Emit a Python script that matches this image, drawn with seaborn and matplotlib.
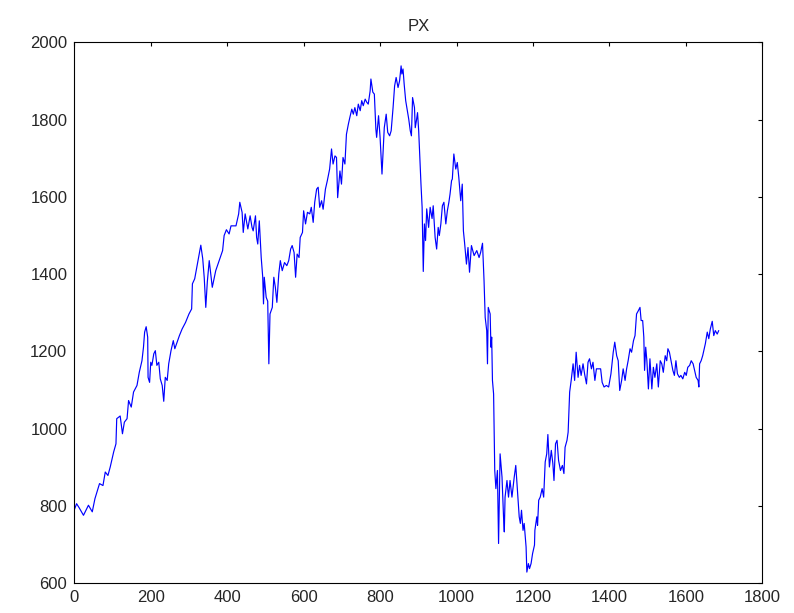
import matplotlib
matplotlib.use("Agg")
import matplotlib.pyplot as plt
import seaborn as sns
import pandas as pd

day = [0, 6, 13, 24, 37, 47, 54, 66, 75, 81, 88, 94, 103, 109, 111, 120, 126, 131, 138, 142,
       149, 155, 164, 170, 177, 181, 184, 188, 192, 193, 197, 200, 203, 208, 212, 216, 221, 225,
       230, 234, 238, 243, 247, 253, 259, 263, 269, 275, 282, 291, 300, 307, 309, 315, 322, 326,
       331, 336, 340, 344, 348, 353, 361,
       370, 379, 388, 392, 398, 405, 410, 423, 430, 433, 439, 442, 447, 454, 460, 465, 468, 474,
       477, 480, 484, 489, 493, 495, 497, 502, 506, 509, 512, 518, 522, 526, 530, 535, 539, 544,
       550, 556, 561, 566, 570, 575, 579, 583, 588, 591, 597, 600, 605, 610, 616, 620, 625, 629,
       634, 638, 642, 647, 651, 657, 662, 668, 673, 677, 682, 686, 689, 695, 699, 703, 708, 712,
       717, 721, 726, 730, 734, 739, 743, 748, 752, 756, 761, 765, 769, 774, 776, 781, 785, 789,
       791, 796, 800, 805, 807, 811, 816, 820, 825, 829, 834, 838, 842, 847, 851, 855, 857, 860,
       863, 867, 870, 875, 879, 882, 885, 890, 892, 895, 898, 901, 904, 907, 910, 913, 916, 919,
       922, 927, 931, 936, 939, 944, 948, 952, 955, 959, 963, 967, 972, 976, 980, 983, 987,
       989, 993, 998, 1002, 1006,
       1011, 1015, 1018, 1021, 1026, 1030, 1034, 1039, 1046, 1053, 1059, 1063, 1068, 1072, 1075,
       1079, 1081, 1083, 1088, 1090, 1092, 1094, 1097, 1100, 1103, 1107, 1110, 1114, 1119, 1123,
       1125, 1127, 1132, 1136, 1140, 1145, 1151, 1155, 1160, 1164, 1167, 1170, 1174, 1177, 1182,
       1184, 1188, 1191, 1195, 1199, 1204, 1205, 1210, 1212, 1215, 1219, 1224, 1228, 1232, 1236,
       1239, 1243, 1248, 1252, 1255, 1259, 1263, 1267, 1272, 1277, 1281, 1284, 1289, 1292, 1296,
       1300, 1305, 1309, 1313, 1318, 1322, 1326, 1331, 1335, 1340, 1344, 1348, 1353, 1357, 1362,
       1366, 1372, 1377, 1381, 1386, 1392, 1398, 1404, 1410, 1414, 1419, 1423, 1427, 1432, 1436,
       1441, 1445, 1449, 1454, 1458, 1463, 1467, 1471, 1476, 1480, 1483, 1487, 1490, 1492, 1495,
       1498, 1502, 1506, 1511, 1515, 1519, 1524, 1528, 1533, 1537, 1541, 1546, 1550, 1553, 1557,
       1562, 1566, 1570, 1574, 1578, 1583, 1587, 1592, 1597, 1601, 1605, 1610, 1614, 1619, 1623,
       1627, 1632, 1634, 1636, 1640, 1644, 1647, 1651, 1656, 1660, 1664, 1669, 1673, 1677, 1682,
       1686]

px = [790, 806, 795, 776, 802, 785, 819, 858, 853, 888, 879, 901, 940, 961, 1026, 1033, 987, 1017, 1026, 1073,
      1056, 1095, 1112, 1146, 1176, 1211, 1250, 1264, 1237, 1133, 1120, 1172, 1164, 1194, 1202, 1164, 1172, 1129,
      1112, 1071, 1133, 1125, 1168, 1202, 1228, 1207, 1224, 1241, 1258, 1275, 1297, 1310, 1375, 1388, 1426, 1448,
      1475, 1440, 1390, 1314, 1380, 1435, 1366,
      1409, 1435, 1461, 1500, 1515, 1504, 1525, 1525, 1556, 1586, 1560, 1508, 1556, 1517, 1551, 1521, 1512, 1551,
      1495, 1478, 1538, 1443, 1392, 1323, 1392, 1340, 1330, 1168, 1297, 1314, 1392, 1366, 1327, 1401, 1435, 1409,
      1430, 1422, 1435, 1465, 1474, 1456, 1392, 1452, 1443, 1495, 1508, 1564, 1530, 1560, 1556, 1573, 1534, 1586,
      1620, 1625, 1573, 1590, 1568, 1620, 1642, 1672, 1724, 1685, 1706, 1702, 1598, 1667, 1633, 1702, 1685, 1762,
      1788, 1806, 1827, 1814, 1831, 1810, 1840, 1823, 1849, 1836, 1853, 1845, 1840, 1874, 1905, 1871, 1866, 1775,
      1754, 1810, 1754, 1659, 1698, 1779, 1814, 1767, 1758, 1771, 1831, 1887, 1909, 1883, 1900, 1939, 1918, 1931,
      1892, 1849, 1831, 1801, 1771, 1758, 1857, 1831, 1779, 1797, 1818, 1771, 1702, 1633, 1573, 1407, 1530, 1487,
      1569, 1521, 1573, 1544, 1577, 1495, 1465, 1521, 1500, 1530, 1577, 1586, 1530, 1564, 1586, 1607, 1642,
      1646, 1711, 1672, 1689, 1650,
      1590, 1633, 1512, 1482, 1426, 1469, 1405, 1474, 1448, 1461, 1443, 1456, 1480, 1383, 1288,
      1254, 1168, 1314, 1297, 1211, 1237, 1125, 1090, 892, 845, 892, 703, 935, 875, 772,
      733, 823, 866, 823, 866, 823, 875, 905, 832, 772, 755, 789, 737, 755, 694,
      629, 651, 638, 651, 677, 699, 737, 772, 750, 815, 823, 845, 823, 914, 935,
      985, 901, 944, 910, 866, 961, 970, 918, 892, 905, 884, 952, 970, 991, 1095,
      1125, 1168, 1125, 1198, 1133, 1164, 1138, 1168, 1142, 1116, 1172, 1181, 1155, 1172, 1125,
      1155, 1155, 1155, 1120, 1108, 1112, 1108, 1142, 1198, 1224, 1189, 1176, 1099, 1125, 1155,
      1125, 1155, 1176, 1207, 1198, 1228, 1241, 1297, 1306, 1314, 1280, 1280, 1237, 1151, 1211,
      1176, 1103, 1181, 1103, 1159, 1133, 1168, 1108, 1176, 1168, 1146, 1189, 1176, 1207, 1198,
      1172, 1151, 1138, 1176, 1142, 1133, 1138, 1129, 1146, 1138, 1159, 1164, 1176, 1168, 1151,
      1133, 1125, 1108, 1168, 1176, 1189, 1202, 1220, 1250, 1233, 1258, 1278, 1241, 1254, 1245,
      1254]

xticks = [0, 200, 400, 600, 800, 1000, 1200, 1400, 1600, 1800]
yticks = [600, 800, 1000, 1200, 1400, 1600, 1800, 2000]

df = pd.DataFrame({"day": day, "PX": px})

sns.set_style("white")
plt.rcParams["font.family"] = ["Liberation Sans", "DejaVu Sans"]

fig = plt.figure(figsize=(7.94, 6.13), dpi=100)
ax = fig.add_axes([74.3 / 794, 1 - 583.3 / 613, 688 / 794, (583.3 - 42.3) / 613])
sns.lineplot(data=df, x="day", y="PX", ax=ax, color="#0000ff", linewidth=0.85,
             estimator=None, sort=False)

ax.set_xlim(0, 1800)
ax.set_ylim(600, 2000)
ax.set_xticks(xticks)
ax.set_yticks(yticks)
ax.set_xlabel("")
ax.set_ylabel("")
ax.set_title("PX", fontsize=12, pad=8)
ax.tick_params(direction="in", top=True, right=True, length=3, width=0.8,
               labelsize=12, color="black", pad=5)
for s in ax.spines.values():
    s.set_visible(True)
    s.set_color("black")
    s.set_linewidth(0.8)

fig.savefig("out.png", dpi=100, facecolor="white")
